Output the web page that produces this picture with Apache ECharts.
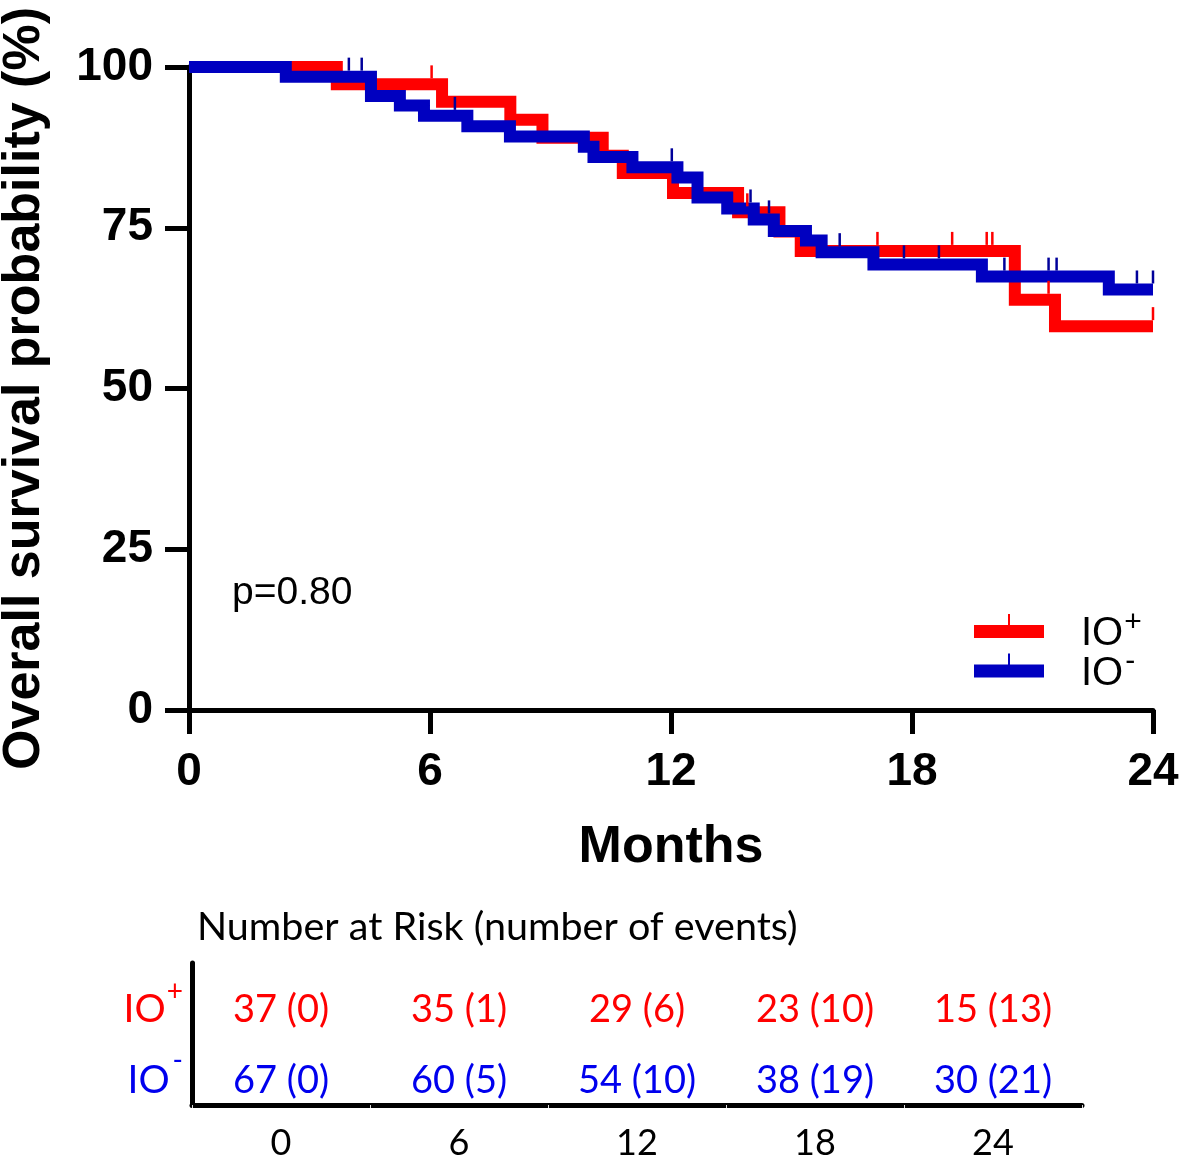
<!DOCTYPE html>
<html><head><meta charset="utf-8">
<script src="https://cdn.jsdelivr.net/npm/echarts/dist/echarts.min.js"></script>
<style>html,body{margin:0;padding:0;background:#fff}#c{width:1184px;height:1156px}</style>
</head><body><div id="c"></div>
<script>
// ---- data ----
const groupNames = ['IO+', 'IO-'];
// Kaplan-Meier step points [month, survival %]
const ioPosCurve = [[0,100],[3.68,97.3],[6.3,94.6],[8.0,91.8],[8.8,89.0],[10.3,86.2],[10.8,83.5],[12.05,80.4],[13.67,77.4],[14.7,74.4],[15.23,71.4],[20.56,63.8],[21.56,59.7],[24,59.7]];
const ioNegCurve = [[0,100],[2.41,98.5],[4.53,95.5],[5.25,94.0],[5.85,92.4],[6.93,90.8],[7.99,89.2],[9.83,87.6],[10.07,86.0],[11.04,84.4],[12.16,82.8],[12.66,79.7],[13.4,78.0],[14.06,76.3],[14.56,74.5],[15.36,73.0],[15.75,71.2],[17.04,69.3],[19.74,67.4],[22.9,65.4],[24,65.4]];
// censoring times (months)
const ioPosCensor = [6.04, 13.9, 17.14, 19.0, 19.86, 20.0, 21.4, 24];
const ioNegCensor = [3.98, 4.3, 6.62, 12.02, 13.98, 14.44, 16.2, 17.8, 18.67, 20.3, 21.4, 21.6, 23.6, 24];
// risk table
const riskTimes = ['0', '6', '12', '18', '24'];
const ioPosAtRisk = [37, 35, 29, 23, 15];
const ioPosEvents = [0, 1, 6, 10, 13];
const ioNegAtRisk = [67, 60, 54, 38, 30];
const ioNegEvents = [0, 5, 10, 19, 21];
const pText = 'p=0.80';

// ---- helpers ----
function survAt(curve, t) {
  let v = curve[0][1];
  for (const p of curve) { if (p[0] <= t) v = p[1]; }
  return v;
}
const RED = '#ff0000', BLUE = '#0000c0', BLUE_T = '#00009a';
const TRED = '#ff0000', TBLUE = '#0000ee';
const iconPath = 'path://M0,11h70v13h-70zM34,0h2v11h-2z';
const bold = {fontWeight: 'bold', color: '#000', fontFamily: 'Liberation Sans'};

const chart = echarts.init(document.getElementById('c'), null, {renderer: 'canvas'});
chart.setOption({
  animation: false,
  backgroundColor: '#fff',
  grid: [
    {left: 189, right: 31, top: 67, bottom: 446, outerBoundsMode: 'none', containLabel: false},
    {left: 192, top: 963, width: 890, height: 142, outerBoundsMode: 'none', containLabel: false}
  ],
  xAxis: [
    {type: 'value', gridIndex: 0, min: 0, max: 24, interval: 6,
     axisLine: {show: true, onZero: false, lineStyle: {color: '#000', width: 5}},
     axisTick: {show: true, length: 24, lineStyle: {color: '#000', width: 5}},
     axisLabel: Object.assign({fontSize: 46, margin: 39}, bold),
     splitLine: {show: false},
     name: 'Months', nameLocation: 'middle', nameGap: 112,
     nameTextStyle: Object.assign({fontSize: 52}, bold)},
    {type: 'category', gridIndex: 1, data: riskTimes, boundaryGap: true,
     axisLine: {show: true, lineStyle: {color: '#000', width: 5}},
     axisTick: {show: true, length: 3, lineStyle: {color: '#ddd', width: 1}},
     axisLabel: {fontSize: 36, fontFamily: 'Lato', color: '#000', margin: 20},
     splitLine: {show: false}}
  ],
  yAxis: [
    {type: 'value', gridIndex: 0, min: 0, max: 100, interval: 25,
     axisLine: {show: true, onZero: false, lineStyle: {color: '#000', width: 5}},
     axisTick: {show: true, length: 24, lineStyle: {color: '#000', width: 5}},
     axisLabel: Object.assign({fontSize: 46, margin: 36}, bold),
     splitLine: {show: false},
     name: 'Overall survival probability (%)', nameLocation: 'middle', nameGap: 138,
     nameTextStyle: Object.assign({fontSize: 52}, bold)},
    {type: 'category', gridIndex: 1, data: ['IO-', 'IO+'], boundaryGap: true,
     axisLine: {show: true, lineStyle: {color: '#000', width: 5}},
     axisTick: {show: false},
     axisLabel: {margin: 9, padding: [22, 0, 0, 0],
       formatter: v => v === 'IO+' ? '{r|IO}{rs|+}' : '{b|IO}{bs|-}',
       rich: {
         r: {color: TRED, fontSize: 39, fontFamily: 'Lato', lineHeight: 40},
         rs: {color: TRED, fontSize: 28, fontFamily: 'Lato', verticalAlign: 'bottom', lineHeight: 2, padding: [0, 0, 24, 1]},
         b: {color: TBLUE, fontSize: 39, fontFamily: 'Lato', lineHeight: 40},
         bs: {color: TBLUE, fontSize: 28, fontFamily: 'Lato', verticalAlign: 'bottom', lineHeight: 2, padding: [0, 0, 26, 3]}
       }},
     splitLine: {show: false}}
  ],
  legend: {
    orient: 'vertical', left: 974, top: 608, padding: 0, itemWidth: 70, itemHeight: 24, itemGap: -7.5,
    selectedMode: false,
    itemStyle: {borderWidth: 0},
    data: [{name: groupNames[0], icon: iconPath}, {name: groupNames[1], icon: iconPath}],
    formatter: n => '{m|IO}{' + (n === 'IO+' ? 'p|+' : 'n|-') + '}',
    textStyle: {padding: [16, 0, 0, 32],
      rich: {
        m: {fontSize: 40, fontFamily: 'Liberation Sans', color: '#000', lineHeight: 24},
        p: {fontSize: 30, fontFamily: 'Liberation Sans', color: '#000', verticalAlign: 'bottom', lineHeight: 2, padding: [0, 0, 8, 1]},
        n: {fontSize: 30, fontFamily: 'Liberation Sans', color: '#000', verticalAlign: 'bottom', lineHeight: 2, padding: [0, 0, 9, 2]}
      }}
  },
  graphic: [
    {type: 'text', left: 232, top: 574, style: {text: pText, fontSize: 39, fontFamily: 'Liberation Sans', fill: '#000'}},
    {type: 'text', left: 197, top: 907, style: {text: 'Number at Risk (number of events)', fontSize: 39.5, fontFamily: 'Lato', fill: '#000'}}
  ],
  series: [
    {name: groupNames[0], type: 'line', step: 'end', data: ioPosCurve, symbol: 'none',
     color: RED, itemStyle: {color: RED},
     lineStyle: {color: RED, width: 12, cap: 'butt', join: 'miter'}, z: 2},
    {name: groupNames[1], type: 'line', step: 'end', data: ioNegCurve, symbol: 'none',
     color: BLUE, itemStyle: {color: BLUE},
     lineStyle: {color: BLUE, width: 12, cap: 'butt', join: 'miter'}, z: 3},
    {name: 'IO+ censored', type: 'scatter', data: ioPosCensor.map(t => [t, survAt(ioPosCurve, t)]),
     symbol: 'rect', symbolSize: [2.5, 13], symbolOffset: [0, -12.5], clip: false,
     itemStyle: {color: RED, opacity: 1}, z: 5, silent: true},
    {name: 'IO- censored', type: 'scatter', data: ioNegCensor.map(t => [t, survAt(ioNegCurve, t)]),
     symbol: 'rect', symbolSize: [2.5, 13], symbolOffset: [0, -12.5], clip: false,
     itemStyle: {color: BLUE_T, opacity: 1}, z: 5, silent: true},
    {name: 'risk IO+', type: 'scatter', xAxisIndex: 1, yAxisIndex: 1, symbolSize: 1,
     itemStyle: {color: 'rgba(0,0,0,0)', opacity: 1}, silent: true,
     data: riskTimes.map((t, i) => [i, 1]),
     label: {show: true, position: 'inside', offset: [0, 11], color: TRED, opacity: 1, fontSize: 38, fontFamily: 'Lato',
       formatter: p => ioPosAtRisk[p.dataIndex] + ' (' + ioPosEvents[p.dataIndex] + ')'}},
    {name: 'risk IO-', type: 'scatter', xAxisIndex: 1, yAxisIndex: 1, symbolSize: 1,
     itemStyle: {color: 'rgba(0,0,0,0)', opacity: 1}, silent: true,
     data: riskTimes.map((t, i) => [i, 0]),
     label: {show: true, position: 'inside', offset: [0, 11], color: TBLUE, opacity: 1, fontSize: 38, fontFamily: 'Lato',
       formatter: p => ioNegAtRisk[p.dataIndex] + ' (' + ioNegEvents[p.dataIndex] + ')'}}
  ]
});
</script>
</body></html>
